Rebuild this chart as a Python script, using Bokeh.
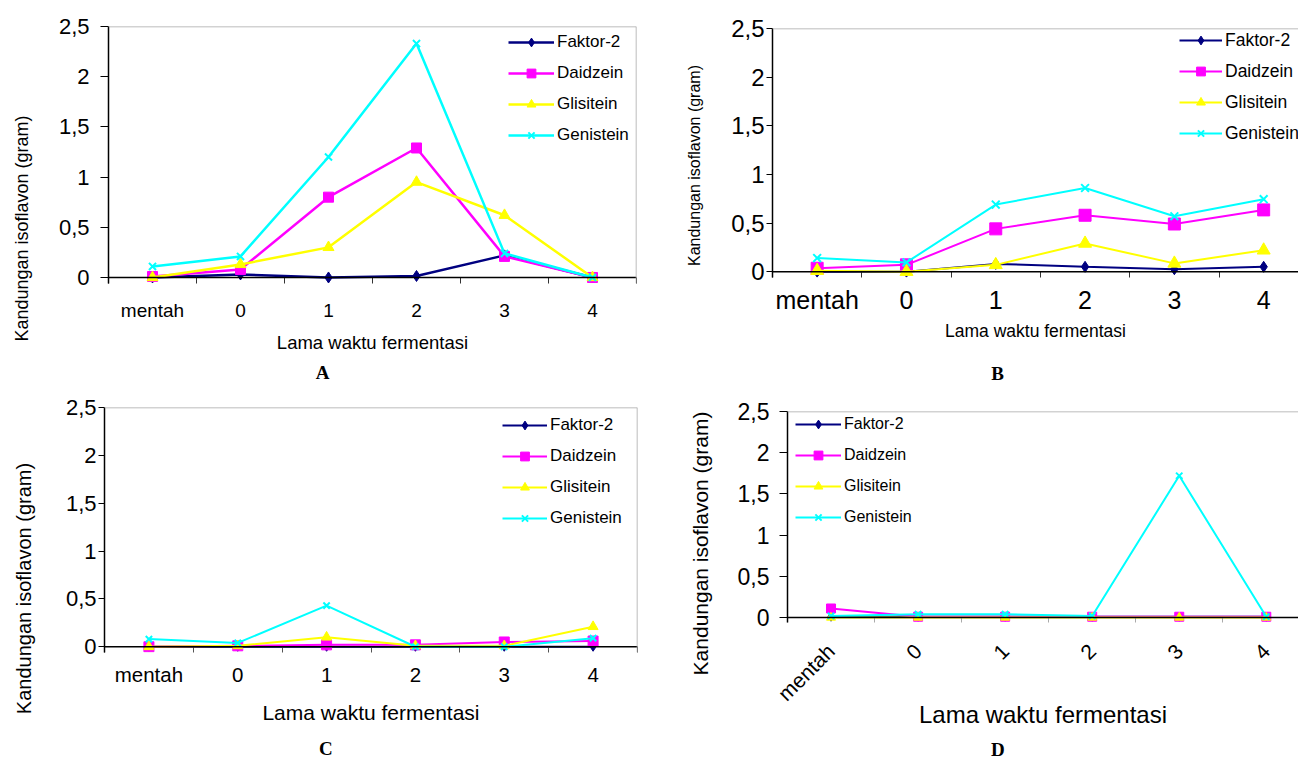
from math import pi
from bokeh.plotting import figure
from bokeh.models import Range1d, FixedTicker, Span, Legend, LegendItem, LinearAxis, Label
from bokeh.layouts import column, row
from bokeh.embed import file_html
from bokeh.resources import INLINE

# ---------------- data ----------------
categories = ["mentah", "0", "1", "2", "3", "4"]
series_names = ["Faktor-2", "Daidzein", "Glisitein", "Genistein"]
y_ticks = [0, 0.5, 1, 1.5, 2, 2.5]
y_tick_labels = ["0", "0,5", "1", "1,5", "2", "2,5"]
x_title = "Lama waktu fermentasi"
y_title = "Kandungan isoflavon (gram)"
panel_letters = ["A", "B", "C", "D"]

A_faktor = [0.0, 0.03, 0.0, 0.015, 0.22, 0.0]
A_daidzein = [0.01, 0.08, 0.80, 1.29, 0.21, 0.0]
A_glisitein = [0.0, 0.13, 0.30, 0.95, 0.62, 0.0]
A_genistein = [0.11, 0.21, 1.20, 2.33, 0.24, 0.0]

B_faktor = [0.0, 0.0, 0.08, 0.05, 0.025, 0.05]
B_daidzein = [0.035, 0.07, 0.44, 0.58, 0.49, 0.635]
B_glisitein = [0.01, 0.0, 0.07, 0.29, 0.085, 0.22]
B_genistein = [0.14, 0.095, 0.69, 0.86, 0.57, 0.745]

C_faktor = [0.0, 0.0, 0.0, 0.0, 0.0, 0.0]
C_daidzein = [0.0, 0.01, 0.02, 0.02, 0.05, 0.06]
C_glisitein = [0.0, 0.01, 0.10, 0.01, 0.01, 0.21]
C_genistein = [0.08, 0.04, 0.43, 0.0, 0.0, 0.09]

D_faktor = [0.01, 0.01, 0.01, 0.01, 0.01, 0.01]
D_daidzein = [0.11, 0.01, 0.01, 0.01, 0.01, 0.01]
D_glisitein = [0.0, 0.0, 0.0, 0.0, 0.0, 0.0]
D_genistein = [0.02, 0.04, 0.04, 0.02, 1.72, 0.01]

panel_data = [
    [A_faktor, A_daidzein, A_glisitein, A_genistein],
    [B_faktor, B_daidzein, B_glisitein, B_genistein],
    [C_faktor, C_daidzein, C_glisitein, C_genistein],
    [D_faktor, D_daidzein, D_glisitein, D_genistein],
]

# ---------------- styles ----------------
series_colors = ["#000080", "#FF00FF", "#FFFF00", "#00FFFF"]
series_markers = ["diamond", "square", "triangle", "x"]
SANS = "Liberation Sans"
SERIF = "Liberation Serif"
NBSP = "\u00a0"

panel_styles = [
    dict(strip_w=42, ytitle_pos=(21, 162), ytitle_fs="18px",
         w=608, h=390, mb=(66, 26, 14, 107), xend=6.0, right_border=True,
         lw=2.5, msize=(11, 10, 11, 10), ytick_fs="22px", ytick_out=8, ytick_sd=11,
         xtick_fs="19px", xtick_sd=16, xorient="horizontal", xtitle_fs="18.5px", xtitle_sd=8,
         letter_sd=6, letter_pad=21,
         leg_fs="17px", leg_loc=(400, 137), leg_gw=46, tick_in=6, minor_col="#333333"),
    dict(strip_w=60, ytitle_pos=(44, 225), ytitle_fs="16px",
         w=588, h=390, mb=(62, 28, 0, 113), xend=5.89, right_border=False,
         lw=2.0, msize=(11, 12, 13, 11), ytick_fs="24px", ytick_out=6, ytick_sd=2,
         xtick_fs="25px", xtick_sd=8, xorient="horizontal", xtitle_fs="17.5px", xtitle_sd=4,
         letter_sd=19, letter_pad=16,
         leg_fs="17.5px", leg_loc=(407, 133), leg_gw=43, tick_in=6, minor_col="#333333"),
    dict(strip_w=42, ytitle_pos=(23, 174), ytitle_fs="20px",
         w=608, h=372, mb=(62, 17, 13, 110), xend=6.0, right_border=True,
         lw=2.0, msize=(9, 10, 10, 9), ytick_fs="22px", ytick_out=6, ytick_sd=2,
         xtick_fs="20.5px", xtick_sd=10, xorient="horizontal", xtitle_fs="21px", xtitle_sd=12,
         letter_sd=11, letter_pad=19,
         leg_fs="17px", leg_loc=(398, 123), leg_gw=45, tick_in=6, minor_col="#555555"),
    dict(strip_w=68, ytitle_pos=(50, 219), ytitle_fs="21px",
         w=580, h=372, mb=(69, 21, 0, 140), xend=5.87, right_border=False,
         lw=2.0, msize=(9, 9, 9, 9), ytick_fs="23px", ytick_out=8, ytick_sd=10,
         xtick_fs="21px", xtick_sd=25, xorient=pi / 4, xtitle_fs="24px", xtitle_sd=-15,
         letter_sd=7, letter_pad=19,
         leg_fs="16px", leg_loc=(8, 94), leg_gw=46, tick_in=5, minor_col="#aaaaaa"),
]


def make_title_strip(st):
    """Narrow plot-free strip that carries the rotated y-axis title."""
    w, h = st["strip_w"], st["h"]
    s = figure(width=w, height=h, x_range=Range1d(0, w), y_range=Range1d(0, h),
               output_backend="svg", toolbar_location=None, x_axis_location=None,
               y_axis_location=None, min_border=0, title=None, frame_align=False)
    s.grid.visible = False
    s.outline_line_color = None
    s.background_fill_color = "white"
    s.border_fill_color = "white"
    tx, ty = st["ytitle_pos"]
    s.add_layout(Label(x=tx, y=ty, text=y_title, angle=pi / 2, text_align="center",
                       text_baseline="middle", text_font=SANS, text_font_size=st["ytitle_fs"],
                       text_color="black"))
    return s


def make_panel(data, st, letter):
    ml, mt, mr, mbot = st["mb"]
    p = figure(width=st["w"], height=st["h"], x_range=Range1d(0, st["xend"]),
               y_range=Range1d(-0.06, 2.5), output_backend="svg", toolbar_location=None,
               min_border_left=ml, min_border_top=mt, min_border_right=mr,
               min_border_bottom=mbot, title=None, frame_align=False)
    p.grid.visible = False
    p.outline_line_color = None
    p.background_fill_color = "white"
    p.border_fill_color = "white"

    xs = [i + 0.5 for i in range(len(categories))]
    bounds = [float(i) for i in range(len(categories) + 1)]

    # x axis
    xa = p.xaxis[0]
    xa.ticker = FixedTicker(ticks=xs, minor_ticks=bounds)
    xa.major_label_overrides = {x: c for x, c in zip(xs, categories)}
    xa.axis_line_color = None
    xa.major_tick_line_color = None
    xa.major_tick_out = 0
    xa.major_tick_in = 0
    xa.minor_tick_line_color = st["minor_col"]
    xa.minor_tick_line_width = 1
    xa.minor_tick_in = st["tick_in"]
    xa.minor_tick_out = 0
    xa.major_label_text_font = SANS
    xa.major_label_text_font_size = st["xtick_fs"]
    xa.major_label_text_color = "black"
    xa.major_label_standoff = st["xtick_sd"]
    xa.major_label_orientation = st["xorient"]
    xa.axis_label = x_title
    xa.axis_label_text_font = SANS
    xa.axis_label_text_font_style = "normal"
    xa.axis_label_text_font_size = st["xtitle_fs"]
    xa.axis_label_text_color = "black"
    xa.axis_label_standoff = st["xtitle_sd"]

    # panel letter, shown under the x axis title
    la = LinearAxis(ticker=FixedTicker(ticks=[], minor_ticks=[]), axis_line_color=None,
                    major_tick_line_color=None, minor_tick_line_color=None,
                    major_tick_out=0, minor_tick_out=0, major_tick_in=0, minor_tick_in=0,
                    major_label_standoff=0,
                    axis_label=letter + NBSP * st["letter_pad"],
                    axis_label_standoff=st["letter_sd"], axis_label_text_font=SERIF,
                    axis_label_text_font_style="bold", axis_label_text_font_size="19px",
                    axis_label_text_color="black")
    p.add_layout(la, "below")

    # y axis
    ya = p.yaxis[0]
    ya.ticker = FixedTicker(ticks=y_ticks, minor_ticks=[])
    ya.major_label_overrides = {t: s for t, s in zip(y_ticks, y_tick_labels)}
    ya.axis_line_color = "black"
    ya.axis_line_width = 1.5
    ya.major_tick_line_color = "black"
    ya.major_tick_line_width = 1.2
    ya.major_tick_out = st["ytick_out"]
    ya.major_tick_in = 0
    ya.minor_tick_line_color = None
    ya.major_label_text_font = SANS
    ya.major_label_text_font_size = st["ytick_fs"]
    ya.major_label_text_color = "black"
    ya.major_label_standoff = st["ytick_sd"]

    # frame lines
    p.add_layout(Span(location=0, dimension="width", line_color="black", line_width=1.5))
    p.add_layout(Span(location=2.5, dimension="width", line_color="#a6a6a6", line_width=1.5))
    if st["right_border"]:
        p.add_layout(Span(location=6, dimension="height", line_color="#a6a6a6", line_width=1.5))

    items = []
    for name, vals, col, mk, ms in zip(series_names, data, series_colors, series_markers, st["msize"]):
        lr = p.line(xs, vals, line_color=col, line_width=st["lw"])
        sr = p.scatter(xs, vals, marker=mk, size=ms, fill_color=col, line_color=col,
                       line_width=2 if mk == "x" else 1)
        items.append(LegendItem(label=name, renderers=[lr, sr]))

    leg = Legend(items=items, location=st["leg_loc"], glyph_width=st["leg_gw"], glyph_height=22,
                 label_height=22, spacing=9, padding=0, margin=0, label_standoff=3,
                 border_line_color=None, background_fill_alpha=0,
                 label_text_font=SANS, label_text_font_size=st["leg_fs"], label_text_color="black")
    p.add_layout(leg)
    return p


strips = [make_title_strip(s) for s in panel_styles]
panels = [make_panel(d, s, l) for d, s, l in zip(panel_data, panel_styles, panel_letters)]
layout = column(row(strips[0], panels[0], strips[1], panels[1]),
                row(strips[2], panels[2], strips[3], panels[3]))

open("out.html", "w").write(file_html(layout, INLINE))
